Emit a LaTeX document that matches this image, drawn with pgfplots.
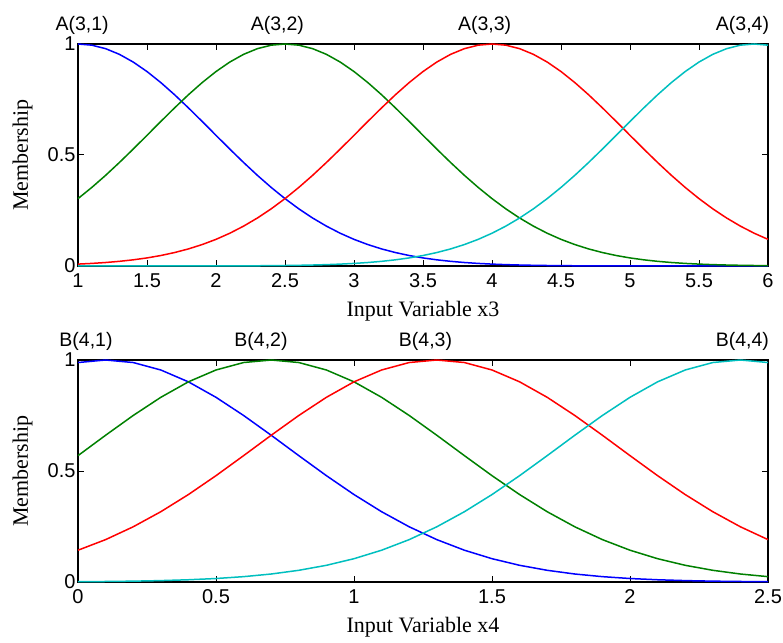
\documentclass[border=0pt]{standalone}
\usepackage{fontspec}
\setmainfont{Liberation Serif}
\newfontfamily\arial{Liberation Sans}
\usepackage{pgfplots}
\pgfplotsset{compat=1.18}
\usepackage{pgfplotstable}

\definecolor{mblue}{rgb}{0,0,1}
\definecolor{mgreen}{rgb}{0,0.5,0}
\definecolor{mred}{rgb}{1,0,0}
\definecolor{mcyan}{rgb}{0,0.75,0.75}

\pgfplotstableread{
x b g r c
1.0 1.0000 0.3035 0.0085 0
1.1 0.9947 0.3539 0.0116 0
1.2 0.9790 0.4083 0.0157 0
1.3 0.9534 0.4662 0.0210 0
1.4 0.9187 0.5266 0.0278 0
1.5 0.8759 0.5886 0.0364 0
1.6 0.8263 0.6510 0.0472 0.0001
1.7 0.7713 0.7123 0.0606 0.0001
1.8 0.7123 0.7713 0.0769 0.0001
1.9 0.6510 0.8263 0.0966 0.0002
2.0 0.5886 0.8759 0.1200 0.0003
2.1 0.5266 0.9187 0.1476 0.0005
2.2 0.4662 0.9534 0.1796 0.0007
2.3 0.4083 0.9790 0.2162 0.0010
2.4 0.3539 0.9947 0.2575 0.0015
2.5 0.3035 1.0000 0.3035 0.0022
2.6 0.2575 0.9947 0.3539 0.0031
2.7 0.2162 0.9790 0.4083 0.0044
2.8 0.1796 0.9534 0.4662 0.0061
2.9 0.1476 0.9187 0.5266 0.0085
3.0 0.1200 0.8759 0.5886 0.0116
3.1 0.0966 0.8263 0.6510 0.0157
3.2 0.0769 0.7713 0.7123 0.0210
3.3 0.0606 0.7123 0.7713 0.0278
3.4 0.0472 0.6510 0.8263 0.0364
3.5 0.0364 0.5886 0.8759 0.0472
3.6 0.0278 0.5266 0.9187 0.0606
3.7 0.0210 0.4662 0.9534 0.0769
3.8 0.0157 0.4083 0.9790 0.0966
3.9 0.0116 0.3539 0.9947 0.1200
4.0 0.0085 0.3035 1.0000 0.1476
4.1 0.0061 0.2575 0.9947 0.1796
4.2 0.0044 0.2162 0.9790 0.2162
4.3 0.0031 0.1796 0.9534 0.2575
4.4 0.0022 0.1476 0.9187 0.3035
4.5 0.0015 0.1200 0.8759 0.3539
4.6 0.0010 0.0966 0.8263 0.4083
4.7 0.0007 0.0769 0.7713 0.4662
4.8 0.0005 0.0606 0.7123 0.5266
4.9 0.0003 0.0472 0.6510 0.5886
5.0 0.0002 0.0364 0.5886 0.6510
5.1 0.0001 0.0278 0.5266 0.7123
5.2 0.0001 0.0210 0.4662 0.7713
5.3 0.0001 0.0157 0.4083 0.8263
5.4 0 0.0116 0.3539 0.8759
5.5 0 0.0085 0.3035 0.9187
5.6 0 0.0061 0.2575 0.9534
5.7 0 0.0044 0.2162 0.9790
5.8 0 0.0031 0.1796 0.9947
5.9 0 0.0022 0.1476 1.0000
6.0 0 0.0015 0.1200 0.9947
}\toptable

\pgfplotstableread{
x b g r c
0.0 0.9886 0.5692 0.1432 0.0013
0.1 1.0000 0.6610 0.1909 0.0023
0.2 0.9886 0.7501 0.2487 0.0038
0.3 0.9550 0.8319 0.3166 0.0063
0.4 0.9017 0.9017 0.3939 0.0101
0.5 0.8319 0.9550 0.4790 0.0157
0.6 0.7501 0.9886 0.5692 0.0241
0.7 0.6610 1.0000 0.6610 0.0360
0.8 0.5692 0.9886 0.7501 0.0527
0.9 0.4790 0.9550 0.8319 0.0752
1.0 0.3939 0.9017 0.9017 0.1050
1.1 0.3166 0.8319 0.9550 0.1432
1.2 0.2487 0.7501 0.9886 0.1909
1.3 0.1909 0.6610 1.0000 0.2487
1.4 0.1432 0.5692 0.9886 0.3166
1.5 0.1050 0.4790 0.9550 0.3939
1.6 0.0752 0.3939 0.9017 0.4790
1.7 0.0527 0.3166 0.8319 0.5692
1.8 0.0360 0.2487 0.7501 0.6610
1.9 0.0241 0.1909 0.6610 0.7501
2.0 0.0157 0.1432 0.5692 0.8319
2.1 0.0101 0.1050 0.4790 0.9017
2.2 0.0063 0.0752 0.3939 0.9550
2.3 0.0038 0.0527 0.3166 0.9886
2.4 0.0023 0.0360 0.2487 1.0000
2.5 0.0013 0.0241 0.1909 0.9886
}\bottable

\pgfplotsset{
  mfstyle/.style={
    width=690pt, height=222pt, scale only axis,
    ymin=0, ymax=1, ytick={0,0.5,1},
    tick align=inside, major tick length=6pt,
    every tick/.style={black, line width=1pt},
    axis line style={line width=2pt},
    tick label style={font=\arial\fontsize{20}{21}\selectfont},
    /pgf/number format/assume math mode=true,
    label style={font=\fontsize{22}{24}\selectfont},
    ylabel={Membership},
    ylabel style={at={(axis description cs:-0.0725,0.5)}, anchor=base},
    xlabel style={at={(axis description cs:0.5,-0.2297)}, anchor=base},
    xticklabel style={yshift=-4pt},
    yticklabel style={xshift=1pt},
    clip=false,
    every axis plot/.append style={line width=1.5pt, mark=none},
  },
}
\tikzset{mflabel/.style={anchor=base, yshift=13pt, font=\arial\fontsize{19.5}{21}\selectfont}}

\begin{document}
\begin{tikzpicture}[x=1pt,y=1pt]
\useasboundingbox (0,0) rectangle (783,642);
\begin{axis}[mfstyle, at={(78pt,376pt)}, anchor=south west,
  xmin=1, xmax=6, xtick={1,1.5,2,2.5,3,3.5,4,4.5,5,5.5,6},
  xlabel={Input Variable x3}]
  \addplot[mblue] table[x=x,y=b] {\toptable};
  \addplot[mgreen] table[x=x,y=g] {\toptable};
  \addplot[mred] table[x=x,y=r] {\toptable};
  \addplot[mcyan] table[x=x,y=c] {\toptable};
  \node[mflabel] at (axis cs:1.03,1) {A(3,1)};
  \node[mflabel] at (axis cs:2.445,1) {A(3,2)};
  \node[mflabel] at (axis cs:3.946,1) {A(3,3)};
  \node[mflabel] at (axis cs:5.815,1) {A(3,4)};
\end{axis}
\begin{axis}[mfstyle, at={(78pt,60pt)}, anchor=south west,
  xmin=0, xmax=2.5, xtick={0,0.5,1,1.5,2,2.5},
  xlabel={Input Variable x4}]
  \addplot[mblue] table[x=x,y=b] {\bottable};
  \addplot[mgreen] table[x=x,y=g] {\bottable};
  \addplot[mred] table[x=x,y=r] {\bottable};
  \addplot[mcyan] table[x=x,y=c] {\bottable};
  \node[mflabel] at (axis cs:0.029,1) {B(4,1)};
  \node[mflabel] at (axis cs:0.663,1) {B(4,2)};
  \node[mflabel] at (axis cs:1.259,1) {B(4,3)};
  \node[mflabel] at (axis cs:2.407,1) {B(4,4)};
\end{axis}
\end{tikzpicture}
\end{document}
